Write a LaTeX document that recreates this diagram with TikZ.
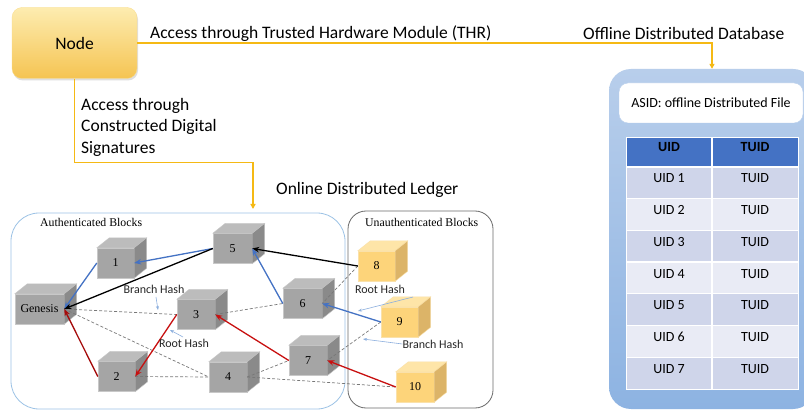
\documentclass[tikz,border=0pt]{standalone}
\usepackage{fontspec}
\setmainfont{Liberation Serif}
\newfontfamily\calibrifont{Carlito}
\usetikzlibrary{arrows.meta,calc,shadows}

\definecolor{goldline}{RGB}{245,185,20}
\definecolor{nodetop}{RGB}{253,236,176}
\definecolor{nodebot}{RGB}{245,196,82}
\definecolor{grayfront}{RGB}{165,165,165}
\definecolor{graytop}{RGB}{188,188,188}
\definecolor{grayside}{RGB}{138,138,138}
\definecolor{grayedge}{RGB}{200,200,200}
\definecolor{orfront}{RGB}{253,212,122}
\definecolor{ortop}{RGB}{254,229,168}
\definecolor{orside}{RGB}{220,180,104}
\definecolor{oredge}{RGB}{250,225,170}
\definecolor{linkblue}{RGB}{68,114,196}
\definecolor{linkred}{RGB}{200,16,16}
\definecolor{linkdarkred}{RGB}{165,10,10}
\definecolor{hashblue}{RGB}{140,175,222}
\definecolor{authborder}{RGB}{157,195,230}
\definecolor{unauthborder}{RGB}{105,105,105}
\definecolor{dbtop}{RGB}{184,206,235}
\definecolor{dbbot}{RGB}{141,179,226}
\definecolor{tabhead}{RGB}{68,114,196}
\definecolor{rowA}{RGB}{207,213,234}
\definecolor{rowB}{RGB}{233,235,245}
\definecolor{dashgray}{RGB}{120,120,120}

% top and right faces of a block drawn beside its front face
\newcommand\blockfaces[4]{%
  \path[fill=#2, draw=#4, line width=0.4pt] (#1.north west) -- ++(12.5,-10)
     -- ($(#1.north east)+(12.5,-10)$) -- (#1.north east) -- cycle;
  \path[fill=#3, draw=#4, line width=0.4pt] (#1.north east) -- ++(12.5,-10)
     -- ($(#1.south east)+(12.5,-10)$) -- (#1.south east) -- cycle;
}

\begin{document}
\begin{tikzpicture}[x=1pt,y=-1pt,
  sans/.style={font=\calibrifont\fontsize{17.5}{21.5}\selectfont},
  gold/.style={draw=goldline, line width=1.5pt},
  goldtip/.style={-{Triangle[length=5pt,width=5pt]}},
  gblock/.style={rectangle, fill=grayfront, draw=grayedge, line width=0.4pt,
     minimum height=30pt, inner sep=0pt, font=\fontsize{12}{14}\selectfont},
  oblock/.style={gblock, fill=orfront, draw=oredge},
  link/.style={line width=1.3pt, -{Stealth[length=7pt,width=5.5pt]}},
  dashlink/.style={draw=dashgray, line width=0.7pt, dash pattern=on 3pt off 2pt},
  hashnote/.style={font=\calibrifont\fontsize{12}{14}\selectfont, text=black!85, inner sep=0pt},
  hasharrow/.style={draw=hashblue, line width=0.6pt, -{Stealth[length=4pt,width=3pt]}},
  tabtext/.style={font=\calibrifont\fontsize{14}{16}\selectfont, inner sep=0pt},
  blocktitle/.style={font=\fontsize{11.8}{14}\selectfont, inner sep=0pt, anchor=west}
]
\useasboundingbox (0,0) rectangle (804,414);
\fill[white] (0,0) rectangle (804,414);

% ---------- the accessing node ----------
\node[rectangle, rounded corners=10pt, minimum width=125pt, minimum height=71pt,
      top color=nodetop, bottom color=nodebot, draw=nodetop!60!nodebot, line width=0.3pt,
      drop shadow={opacity=0.25, shadow xshift=1pt, shadow yshift=-2pt},
      sans] (nodebox) at (74.5,43) {Node};

% ---------- offline distributed database ----------
\node[rectangle, rounded corners=22pt, minimum width=206pt, minimum height=340pt,
      top color=dbtop, bottom color=dbbot, inner sep=0pt] (db) at (712,239) {};
\node[rectangle, rounded corners=9pt, fill=white, draw=dbtop, line width=0.4pt,
      minimum width=184pt, minimum height=40pt, inner sep=0pt,
      font=\calibrifont\fontsize{14}{16}\selectfont] (asid) at (711,103)
      {ASID: offline Distributed File};

\fill[tabhead] (626,137) rectangle (798,167);
\node[tabtext, font=\calibrifont\bfseries\fontsize{14}{16}\selectfont] at (669,147) {UID};
\node[tabtext, font=\calibrifont\bfseries\fontsize{14}{16}\selectfont] at (755,147) {TUID};
\foreach \i/\c in {1/rowA,2/rowB,3/rowA,4/rowB,5/rowA,6/rowB,7/rowA} {
  \fill[\c] (626,{167+(\i-1)*31.7}) rectangle (798,{167+\i*31.7});
  \node[tabtext] at (669,{167+(\i-1)*31.7+11.5}) {UID \i};
  \node[tabtext] at (755,{167+(\i-1)*31.7+11.5}) {TUID};
}
\foreach \i in {0,...,6} {
  \draw[white, line width=1.2pt] (626,{167+\i*31.7}) -- (798,{167+\i*31.7});
}
\draw[white, line width=2pt] (626,167) -- (798,167);
\draw[white, line width=1.2pt] (712,137) -- (712,389);
\draw[white, line width=0.8pt] (626,137) rectangle (798,389);

% ---------- ledger containers ----------
\draw[authborder, line width=0.8pt, fill=white, rounded corners=28pt] (11,213) rectangle (345,409);
\draw[unauthborder, line width=0.8pt, fill=white, rounded corners=18pt] (348,211) rectangle (493,408);
\node[blocktitle] at (40,222) {Authenticated Blocks};
\node[blocktitle] at (365,222) {Unauthenticated Blocks};

% ---------- blocks ----------
\node[gblock, minimum width=49pt] (gen) at (39.5,309) {Genesis};
\node[gblock, minimum width=37pt] (b1) at (115.5,263) {1};
\node[gblock, minimum width=39pt] (b5) at (232.5,248.5) {5};
\node[gblock, minimum width=38pt] (b3) at (196,314.5) {3};
\node[gblock, minimum width=39pt] (b6) at (302.5,303.5) {6};
\node[gblock, minimum width=37pt] (b2) at (116.5,376.5) {2};
\node[gblock, minimum width=38pt] (b4) at (228,377) {4};
\node[gblock, minimum width=38pt] (b7) at (308,360.5) {7};
\node[oblock, minimum width=37pt] (b8) at (376.5,266) {8};
\node[oblock, minimum width=37pt] (b9) at (399.5,322) {9};
\node[oblock, minimum width=38pt] (b10) at (415,387) {10};
\foreach \b in {gen,b1,b5,b3,b6,b2,b4,b7} { \blockfaces{\b}{graytop}{grayside}{grayedge} }
\foreach \b in {b8,b9,b10} { \blockfaces{\b}{ortop}{orside}{oredge} }

% ---------- hash links (dashed) ----------
\draw[dashlink] (gen.east) -- (b3.west);
\draw[dashlink] (gen.east) -- (b4.west);
\draw[dashlink] (b2.east) -- (b4.west);
\draw[dashlink] (b4.east) -- (b7.west);
\draw[dashlink] (b4.east) -- (b10.west);
\draw[dashlink] (b3.east) -- (b6.west);
\draw[dashlink] (b8.west) -- (b6.east);
\draw[dashlink] (b9.west) -- (b7.east);

% ---------- block references ----------
\draw[link, linkblue] (b5.west) -- (b1.east);
\draw[link, linkblue] (b1.west) -- (gen.east);
\draw[link, black] (b5.west) -- (gen.east);
\draw[link, black] (b8.west) -- (b5.east);
\draw[link, linkblue] (b6.west) -- (b5.east);
\draw[link, linkblue] (b9.west) -- (b6.east);
\draw[link, linkred] (b7.west) -- (b3.east);
\draw[link, linkred] (b10.west) -- (b7.east);
\draw[link, linkred] (b3.west) -- (b2.east);
\draw[link, linkdarkred] (b2.west) -- (gen.east);

% ---------- hash annotations ----------
\node[hashnote] (bh1) at (154,289) {Branch Hash};
\node[hashnote] (rh1) at (184,343) {Root Hash};
\node[hashnote] (rh2) at (380,289) {Root Hash};
\node[hashnote] (bh2) at (433,344) {Branch Hash};
\coordinate (bh1tip) at (158,310);
\coordinate (rh1tip) at (170,330);
\coordinate (rh2tip) at (358,311);
\coordinate (bh2tip) at (363,339);
\draw[hasharrow] (156,297) -- (bh1tip);
\draw[hasharrow] (183,337) -- (rh1tip);
\draw[hasharrow] (413,297) -- (rh2tip);
\draw[hasharrow] (bh2.west) -- (bh2tip);

% ---------- access paths ----------
\coordinate (ledger) at (253,209);
\draw[gold, goldtip] (nodebox.east) -| (db.north);
\draw[gold, goldtip] (nodebox.south) -- ++(0,84) -| (ledger);

\node[sans, anchor=west, inner sep=0pt] at (150,34) {Access through Trusted Hardware Module (THR)};
\node[sans, anchor=west, inner sep=0pt] at (583,33) {Offline Distributed Database};
\node[sans, anchor=west, inner sep=0pt, align=left] at (81,127)
  {Access through\\Constructed Digital\\Signatures};
\node[sans, anchor=west, inner sep=0pt] at (276,190) {Online Distributed Ledger};
\end{tikzpicture}
\end{document}
